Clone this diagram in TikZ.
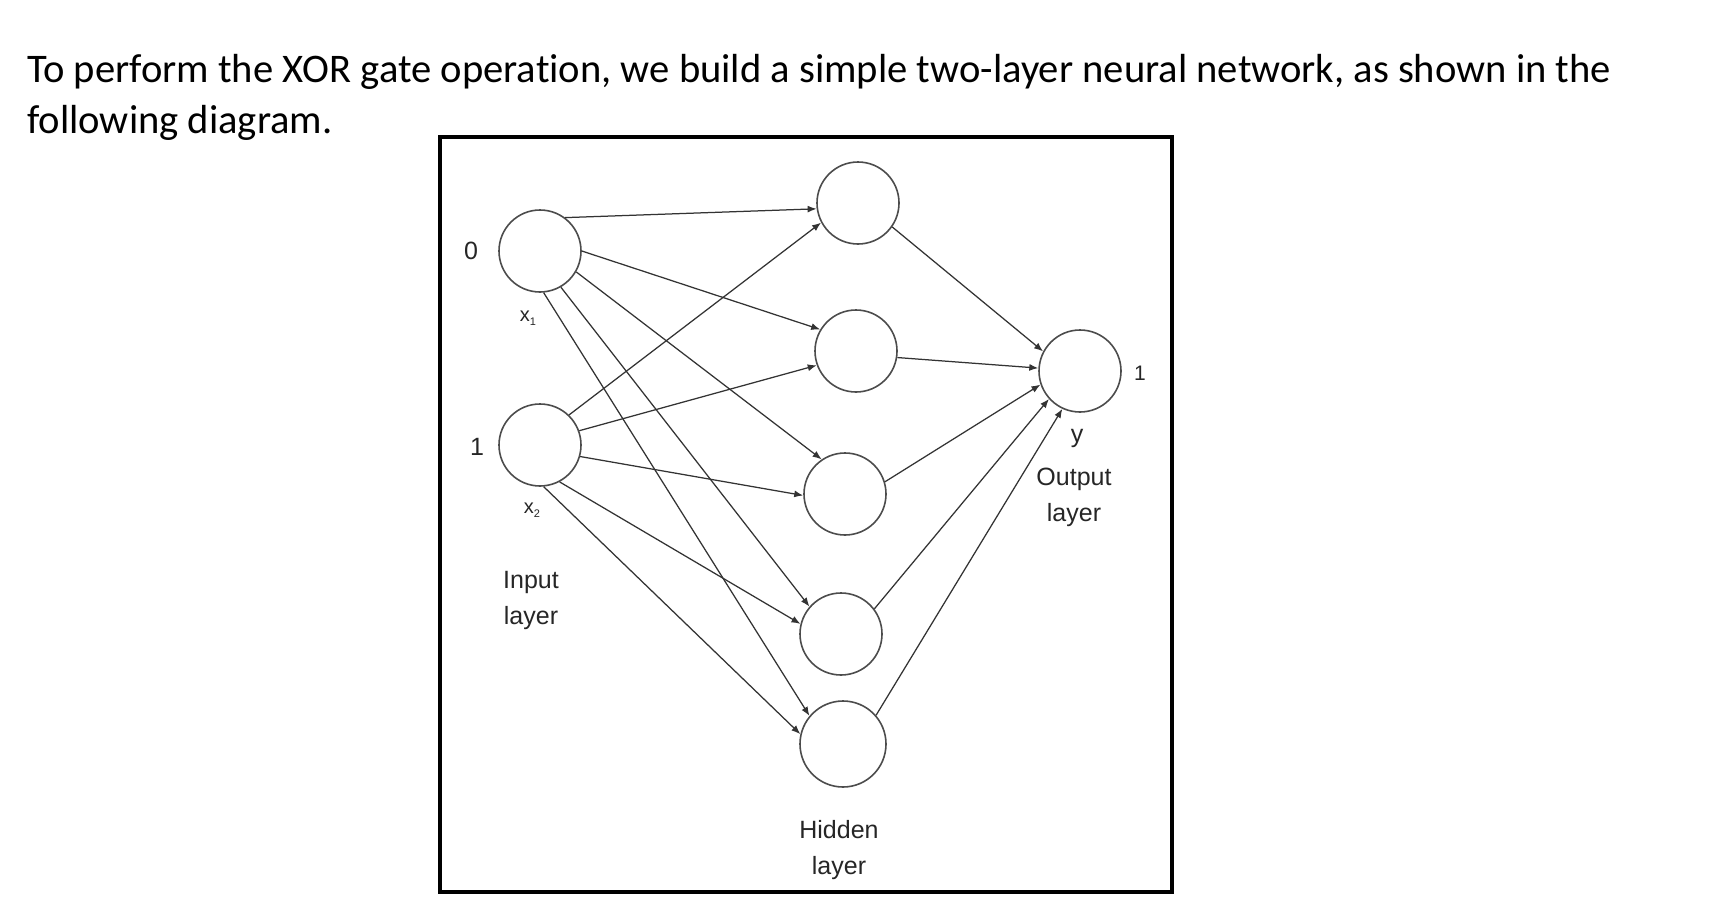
\documentclass[tikz,border=0pt]{standalone}
\usepackage{fontspec}
\setmainfont{Carlito}[Ligatures=NoCommon]
\newfontfamily\labelfont{Liberation Sans}
\usetikzlibrary{arrows.meta}
\begin{document}
\begin{tikzpicture}[x=1pt,y=-1pt,
  neuron/.style={circle,draw=black!70,line width=1.6pt,minimum size=82pt,inner sep=0pt},
  conn/.style={draw=black!80,line width=1.25pt,-{Latex[length=9pt,width=7pt]}},
  lbl/.style={font=\labelfont\fontsize{25}{36}\selectfont,text=black!85,inner sep=0pt,align=center},
  title/.style={font=\fontsize{40.6}{51}\selectfont,anchor=base west,inner sep=0pt},
]
\fill[white] (0,0) rectangle (1710,910);
\useasboundingbox (0,0) rectangle (1710,910);

\node[title] (t1) at (27,82) {To perform the XOR gate operation, we build a simple two-layer neural network, as shown in the};
\node[title] (t2) at (27,133) {following diagram.};

\draw[line width=4pt] (440,137) rectangle (1172,892);

\node[neuron] (x1) at (540,251) {};
\node[neuron] (x2) at (540,445) {};
\node[neuron] (h1) at (858,203) {};
\node[neuron] (h2) at (856,351) {};
\node[neuron] (h3) at (845,494) {};
\node[neuron] (h4) at (841,634) {};
\node[neuron,minimum size=86pt] (h5) at (843,744) {};
\node[neuron] (y) at (1080,371) {};

\draw[conn] (x1.53) -- (h1.188);
\draw[conn] (x1.0) -- (h2.149);
\draw[conn] (x1.330) -- (h3.124);
\draw[conn] (x1.300) -- (h4.139);
\draw[conn] (x1.275) -- (h5.140);
\draw[conn] (x2.46) -- (h1.208);
\draw[conn] (x2.20) -- (h2.200);
\draw[conn] (x2.344) -- (h3.182);
\draw[conn] (x2.298) -- (h4.166);
\draw[conn] (x2.275) -- (h5.167);
\draw[conn] (h1.325) -- (y.152);
\draw[conn] (h2.351) -- (y.176);
\draw[conn] (h3.17) -- (y.199);
\draw[conn] (h4.37) -- (y.222);
\draw[conn] (h5.41) -- (y.245);

\node[lbl] (l0) at (471,251) {0};
\node[lbl] (l1) at (477,447) {1};
\node[lbl] (lx1) at (528,318) {{\fontsize{20}{20}\selectfont x}\raisebox{-4pt}{\fontsize{11}{11}\selectfont 1}};
\node[lbl] (lx2) at (532,510) {{\fontsize{20}{20}\selectfont x}\raisebox{-4pt}{\fontsize{11}{11}\selectfont 2}};
\node[lbl] (lin) at (531,600) {\fontsize{25}{33}\selectfont Input\\layer};
\node[lbl] (ly) at (1077,438) {y};
\node[lbl,font=\labelfont\fontsize{21}{21}\selectfont] (lo) at (1140,373) {1};
\node[lbl] (lout) at (1074,497) {\fontsize{25}{37}\selectfont Output\\layer};
\node[lbl] (lhid) at (839,850) {\fontsize{25}{37}\selectfont Hidden\\layer};
\end{tikzpicture}
\end{document}
